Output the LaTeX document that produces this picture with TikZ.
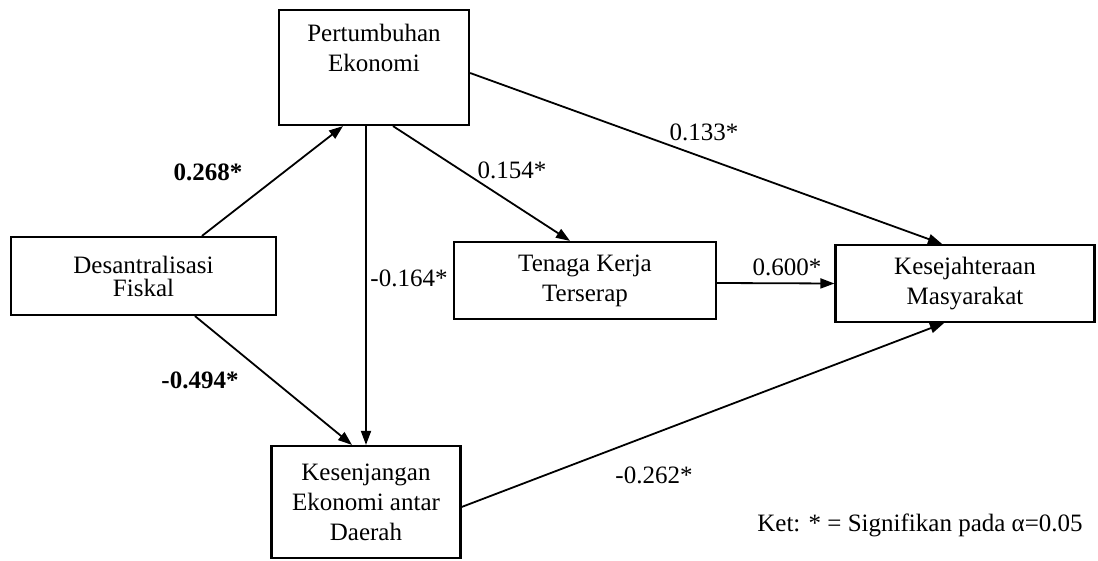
\documentclass[tikz,border=0pt]{standalone}
\usepackage{fontspec}
\setmainfont{Liberation Serif}
\usetikzlibrary{arrows.meta}

\begin{document}
\begin{tikzpicture}[
  x=0.5pt, y=-0.5pt,
  font=\fontsize{12.5}{15}\selectfont,
  var/.style={draw, line width=1.1pt, align=center, inner sep=2pt},
  arr/.style={-{Triangle[length=7pt, width=5pt]}, line width=0.9pt},
  coef/.style={inner sep=1pt},
  bcoef/.style={coef, font=\fontsize{12.5}{15}\selectfont\bfseries},
]
\useasboundingbox (0,0) rectangle (1098,561);
\node[var, minimum width=132.5pt, minimum height=39pt,
      font=\fontsize{12.5}{11.5}\selectfont] (desen) at (143.5,276)
  {Desantralisasi\\Fiskal};
\node[var, minimum width=95pt, minimum height=57.5pt] (pert) at (374,67.5)
  {Pertumbuhan\\Ekonomi\\\strut};
\node[var, minimum width=131pt, minimum height=38.5pt] (tenaga) at (585,280.5)
  {Tenaga Kerja\\Terserap};
\node[var, minimum width=129.5pt, minimum height=38.5pt] (kesej) at (965,283.5)
  {Kesejahteraan\\Masyarakat};
\node[var, minimum width=94.5pt, minimum height=56pt] (kesenj) at (366,502)
  {Kesenjangan\\Ekonomi antar\\Daerah};
% path coefficients
\node[bcoef] (c1) at (208,172) {0.268*};
\node[bcoef] (c2) at (200,380) {-0.494*};
\node[coef] (c3) at (409,278) {-0.164*};
\node[coef] (c4) at (512,170) {0.154*};
\node[coef] (c5) at (704,132) {0.133*};
\node[coef] (c6) at (787,267) {0.600*};
\node[coef] (c7) at (654,475) {-0.262*};
\node (ket) at (920,525) {Ket: * = Signifikan pada α=0.05};
\draw[arr] ([xshift=29.25pt]desen.north) -- ([xshift=-15.5pt]pert.south);
\draw[arr] ([xshift=25.75pt]desen.south) -- ([xshift=-7pt]kesenj.north);
\draw[arr] ([xshift=-4pt]pert.south) -- (kesenj.north);
\draw[arr] ([xshift=9.5pt]pert.south) -- ([xshift=-7.5pt]tenaga.north);
\draw[arr] ([yshift=-2.75pt]pert.east) -- ([xshift=-11.5pt]kesej.north);
\draw[arr] ([yshift=-1.25pt]tenaga.east) -- (kesej.west);
\draw[arr] ([yshift=-2.5pt]kesenj.east) -- ([xshift=-10.5pt]kesej.south);
\end{tikzpicture}
\end{document}
